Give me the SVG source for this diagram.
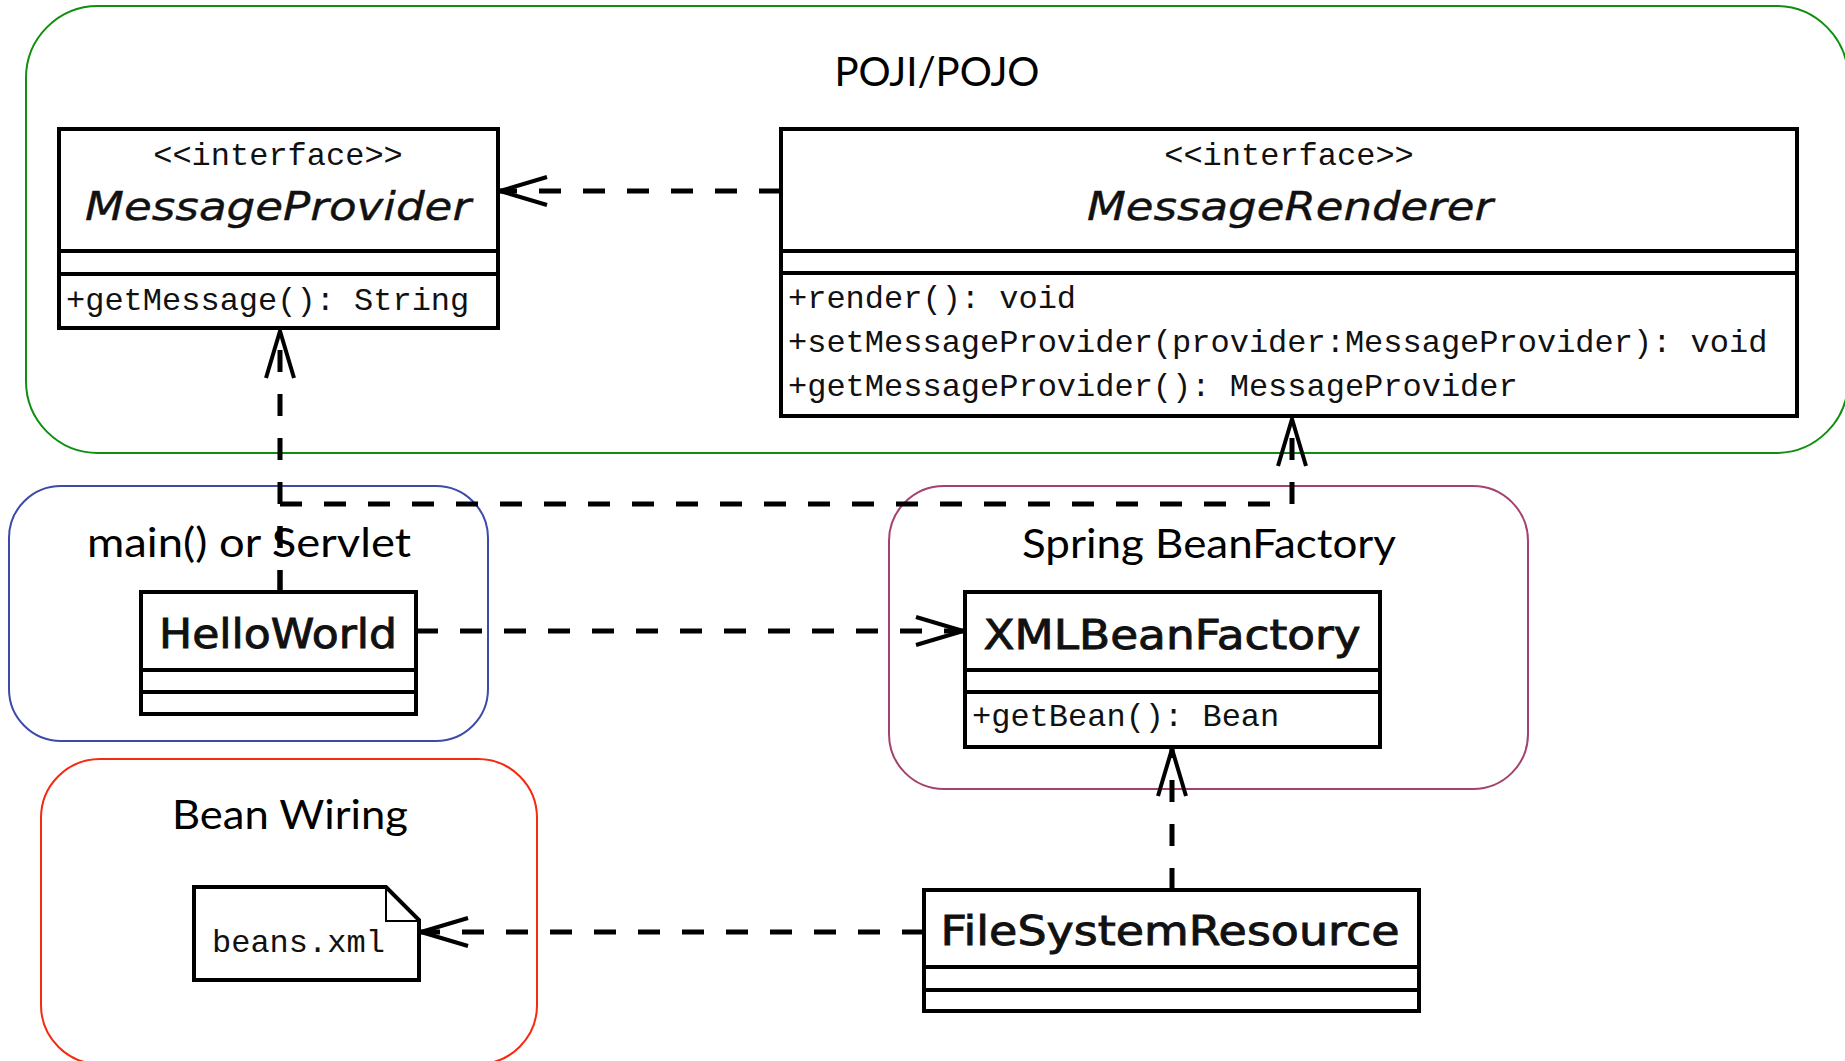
<svg xmlns="http://www.w3.org/2000/svg" width="1845" height="1061" viewBox="0 0 1845 1061">
<style>
.cont{fill:none;stroke-width:2}
.box{fill:#fff;stroke:#000;stroke-width:4}
.sep{stroke:#000;stroke-width:4}
.lbl{font-family:Lato,"Open Sans","Liberation Sans",sans-serif;font-size:41px;fill:#000;text-anchor:middle}
.cls{font-family:"DejaVu Sans","Liberation Sans",sans-serif;font-size:40px;fill:#111;stroke:#111;stroke-width:0.9px;text-anchor:middle}
.ital{font-family:"DejaVu Sans","Liberation Sans",sans-serif;font-size:39px;font-style:italic;fill:#111;stroke:#111;stroke-width:0.4px;text-anchor:middle}
.mono{font-family:"Liberation Mono","DejaVu Sans Mono",monospace;font-size:32px;fill:#111}
.conn{fill:none;stroke:#000;stroke-width:5;stroke-dasharray:22 22}
</style>
<defs>
<marker id="open" markerUnits="userSpaceOnUse" viewBox="-60 -24 66 48" markerWidth="66" markerHeight="48" refX="0" refY="0" orient="auto" overflow="visible">
<path d="M-47,-14 L0,0 L-47,14" fill="none" stroke="#000" stroke-width="4" stroke-dasharray="none" stroke-linejoin="round"/>
</marker>
</defs>

<g id="containers">
<g id="poji-pojo">
<rect class="cont" x="26" y="6" width="1822" height="447" rx="72" ry="72" stroke="#0f8f0f"/>
<text class="lbl" x="937" y="86" textLength="205" lengthAdjust="spacingAndGlyphs">POJI/POJO</text>
</g>
<g id="main-servlet">
<rect class="cont" x="9" y="486" width="479" height="255" rx="52" ry="52" stroke="#3e4aa8"/>
<text class="lbl" x="249" y="557" textLength="324" lengthAdjust="spacingAndGlyphs">main() or Servlet</text>
</g>
<g id="spring-beanfactory">
<rect class="cont" x="889" y="486" width="639" height="303" rx="55" ry="55" stroke="#a4426f"/>
<text class="lbl" x="1209" y="558" textLength="374" lengthAdjust="spacingAndGlyphs">Spring BeanFactory</text>
</g>
<g id="bean-wiring">
<rect class="cont" x="41" y="759" width="496" height="305" rx="59" ry="59" stroke="#f52a10"/>
<text class="lbl" x="290" y="829" textLength="236" lengthAdjust="spacingAndGlyphs">Bean Wiring</text>
</g>
</g>

<g id="MessageProvider">
<rect class="box" x="59" y="129" width="439" height="199"/>
<line class="sep" x1="59" y1="251" x2="498" y2="251"/>
<line class="sep" x1="59" y1="274" x2="498" y2="274"/>
<text class="mono" x="278" y="165" text-anchor="middle">&lt;&lt;interface&gt;&gt;</text>
<text class="ital" x="278" y="220" textLength="386" lengthAdjust="spacingAndGlyphs">MessageProvider</text>
<text class="mono" x="66" y="310">+getMessage(): String</text>
</g>

<g id="MessageRenderer">
<rect class="box" x="781" y="129" width="1016" height="287"/>
<line class="sep" x1="781" y1="251" x2="1797" y2="251"/>
<line class="sep" x1="781" y1="273" x2="1797" y2="273"/>
<text class="mono" x="1289" y="165" text-anchor="middle">&lt;&lt;interface&gt;&gt;</text>
<text class="ital" x="1290" y="220" textLength="406" lengthAdjust="spacingAndGlyphs">MessageRenderer</text>
<text class="mono" x="788" y="308">+render(): void</text>
<text class="mono" x="788" y="352">+setMessageProvider(provider:MessageProvider): void</text>
<text class="mono" x="788" y="396">+getMessageProvider(): MessageProvider</text>
</g>

<g id="HelloWorld">
<rect class="box" x="141" y="592" width="275" height="122"/>
<line class="sep" x1="141" y1="670" x2="416" y2="670"/>
<line class="sep" x1="141" y1="692" x2="416" y2="692"/>
<text class="cls" x="278" y="648" textLength="238" lengthAdjust="spacingAndGlyphs">HelloWorld</text>
</g>

<g id="XMLBeanFactory">
<rect class="box" x="965" y="592" width="415" height="155"/>
<line class="sep" x1="965" y1="670" x2="1380" y2="670"/>
<line class="sep" x1="965" y1="692" x2="1380" y2="692"/>
<text class="cls" x="1172" y="649" textLength="377" lengthAdjust="spacingAndGlyphs">XMLBeanFactory</text>
<text class="mono" x="972" y="726">+getBean(): Bean</text>
</g>

<g id="FileSystemResource">
<rect class="box" x="924" y="890" width="495" height="121"/>
<line class="sep" x1="924" y1="967" x2="1419" y2="967"/>
<line class="sep" x1="924" y1="990" x2="1419" y2="990"/>
<text class="cls" x="1170" y="945" textLength="459" lengthAdjust="spacingAndGlyphs">FileSystemResource</text>
</g>

<g id="beans-xml">
<path d="M194,887 L386,887 L419,920 L419,980 L194,980 Z" fill="#fff" stroke="#000" stroke-width="4" stroke-linejoin="miter"/>
<path d="M386,887 L386,921 L419,921" fill="none" stroke="#000" stroke-width="2"/>
<text class="mono" x="212" y="952">beans.xml</text>
</g>

<g id="connectors">
<path class="conn" d="M781,191 H500" marker-end="url(#open)"/>
<path class="conn" d="M280,592 V331" marker-end="url(#open)"/>
<path class="conn" d="M280,592 V504 H1292 V419" marker-end="url(#open)"/>
<path class="conn" d="M416,631 H963" marker-end="url(#open)"/>
<path class="conn" d="M1172,890 V749" marker-end="url(#open)"/>
<path class="conn" d="M924,932 H421" marker-end="url(#open)"/>
</g>
</svg>
